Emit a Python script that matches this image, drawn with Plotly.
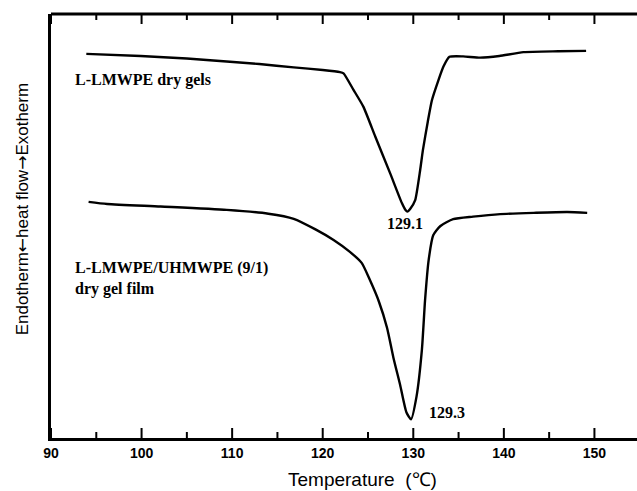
import plotly.graph_objects as go

# Temperature (°C) and heat flow (arbitrary units)
temp_gels = [93.9, 99.9, 105.0, 109.4, 113.0, 116.8, 120.0, 121.9, 122.3, 123.4, 124.5, 125.8,
             127.45, 128.74, 129.1, 129.36, 129.65, 130.21, 130.76, 131.06, 131.6, 132.05,
             132.78, 133.33, 133.99, 135.5, 137.38, 139.5, 142.16, 146.0, 149.08]
flow_gels = [90.6, 90.1, 89.5, 88.8, 88.2, 87.4, 86.8, 86.3, 86.0, 82.1, 78.1, 71.1,
             62.4, 55.4, 53.9, 53.4, 54.0, 56.1, 63.2, 67.9, 74.6, 79.6,
             84.4, 87.6, 89.9, 90.0, 89.7, 90.1, 91.0, 91.2, 91.3]

temp_film = [94.15, 96.2, 102.1, 109.4, 114.0, 116.8, 119.2, 121.2, 123.0, 124.3,
             125.2, 126.2, 127.1, 127.8, 128.55, 129.25, 129.75, 130.35, 130.95,
             131.3, 131.7, 132.2, 133.0, 134.4, 136.6, 139.6, 143.3, 147.0, 149.2]
flow_film = [55.7, 55.2, 54.6, 53.8, 52.9, 51.7, 49.2, 46.7, 43.9, 41.3,
             37.3, 32.2, 26.0, 19.0, 12.5, 6.0, 4.4, 9.7, 20.8,
             32.5, 42.0, 47.8, 50.0, 51.6, 52.2, 52.8, 53.1, 53.3, 53.1]

x_range = [90, 154.7]
x_major_ticks = [90, 100, 110, 120, 130, 140, 150]
x_minor_ticks = [95, 105, 115, 125, 135, 145]

fig = go.Figure()
fig.add_trace(go.Scatter(x=temp_gels, y=flow_gels, mode="lines",
                         line=dict(color="black", width=2.4, shape="spline", smoothing=0.5),
                         showlegend=False))
fig.add_trace(go.Scatter(x=temp_film, y=flow_film, mode="lines",
                         line=dict(color="black", width=2.4, shape="spline", smoothing=0.6),
                         showlegend=False))

serif = dict(family="Liberation Serif", size=16, color="black")
fig.add_annotation(x=92.43, y=84.4, xref="x", yref="y", text="<b>L-LMWPE dry gels</b>",
                   showarrow=False, xanchor="left", yanchor="middle", font=serif)
fig.add_annotation(x=129.1, y=50.5, xref="x", yref="y", text="<b>129.1</b>",
                   showarrow=False, xanchor="center", yanchor="middle", font=serif)
fig.add_annotation(x=92.43, y=40.1, xref="x", yref="y", text="<b>L-LMWPE/UHMWPE (9/1)</b>",
                   showarrow=False, xanchor="left", yanchor="middle", font=serif)
fig.add_annotation(x=92.43, y=35.1, xref="x", yref="y", text="<b>dry gel film</b>",
                   showarrow=False, xanchor="left", yanchor="middle", font=serif)
fig.add_annotation(x=131.5, y=6.1, xref="x", yref="y", text="<b>129.3</b>",
                   showarrow=False, xanchor="left", yanchor="middle", font=serif)

arrow_l = "<span style='font-family:DejaVu Sans'>\u2190</span>"
arrow_r = "<span style='font-family:DejaVu Sans'>\u2192</span>"
fig.add_annotation(x=-0.049, y=0.54, xref="paper", yref="paper",
                   text="Endotherm" + arrow_l + "heat flow" + arrow_r + "Exotherm", textangle=-90,
                   showarrow=False, xanchor="center", yanchor="middle",
                   font=dict(family="Liberation Sans", size=17, color="black"))
fig.add_annotation(x=0.531, y=-0.099, xref="paper", yref="paper",
                   text="Temperature\u00a0\u00a0(\u2103)",
                   showarrow=False, xanchor="center", yanchor="middle",
                   font=dict(family="Liberation Sans", size=19, color="black"))

# frame decoration: tick marks along the bottom and top edges and the top border
for t in x_major_ticks + x_minor_ticks:
    tl = 10 if t in x_major_ticks else 6
    fig.add_shape(type="line", xref="x", yref="paper", x0=t, x1=t,
                  y0=0, y1=tl / 424, layer="above", line=dict(color="black", width=2))
    fig.add_shape(type="line", xref="x", yref="paper", x0=t, x1=t,
                  y0=1, y1=1 - tl / 424, layer="above", line=dict(color="black", width=2))
fig.add_shape(type="line", xref="paper", yref="paper", x0=0, x1=1, y0=1, y1=1,
              layer="above", line=dict(color="black", width=3))

fig.update_layout(
    template="none",
    xaxis=dict(range=x_range, tickmode="array", tickvals=x_major_ticks,
               ticktext=["<b>%d</b>" % v for v in x_major_ticks],
               ticks="", showline=True, linecolor="#000000", linewidth=2.5, mirror=False,
               showgrid=False, zeroline=False,
               tickfont=dict(family="Liberation Sans", size=14, color="black")),
    yaxis=dict(range=[0, 100], showticklabels=False, ticks="",
               showline=True, linecolor="#000000", linewidth=2.5, mirror=False,
               showgrid=False, zeroline=False),
    width=637, height=491, margin=dict(l=51, r=0, t=14, b=53),
    plot_bgcolor="white", paper_bgcolor="white",
)

fig.write_html("out.html")
